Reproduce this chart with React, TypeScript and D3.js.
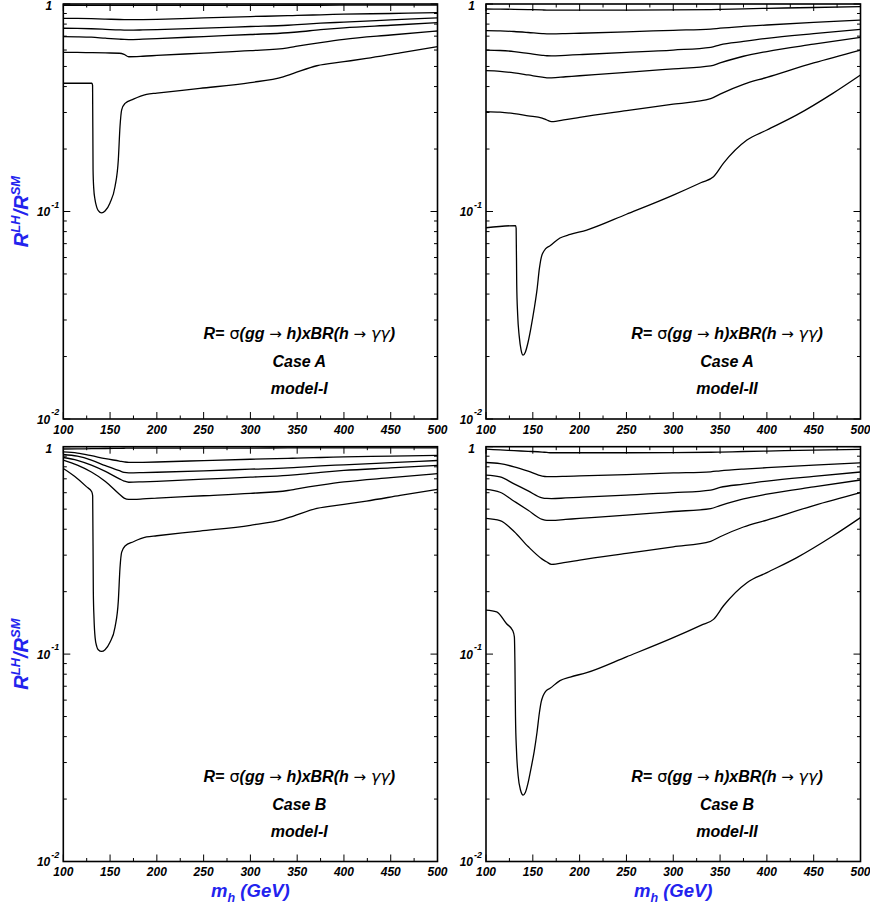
import React from "react";
import * as d3 from "d3";

// ---------- data ----------
const massGrid = [100, 115, 130, 145, 160, 165, 170, 185, 200, 250, 300, 340, 350, 375, 400, 450, 500];

const xMajorTicks = [100, 150, 200, 250, 300, 350, 400, 450, 500];
const xMinorTicks = [125, 175, 225, 275, 325, 375, 425, 475];
const yMajorTicks = [0.01, 0.1, 1];
const yMinorTicks = [0.02, 0.03, 0.04, 0.05, 0.06, 0.07, 0.08, 0.09, 0.2, 0.3, 0.4, 0.5, 0.6, 0.7, 0.8, 0.9];
const yTickLabels = [
  { v: 1, base: "1", exp: "" },
  { v: 0.1, base: "10", exp: "-1" },
  { v: 0.01, base: "10", exp: "-2" },
];

// Case A, model-I
const aI_c1 = [0.986, 0.986, 0.985, 0.985, 0.984, 0.984, 0.984, 0.984, 0.984, 0.985, 0.985, 0.986, 0.986, 0.986, 0.987, 0.987, 0.988];
const aI_c2 = [0.853, 0.852, 0.850, 0.846, 0.842, 0.841, 0.840, 0.841, 0.844, 0.857, 0.870, 0.878, 0.881, 0.887, 0.893, 0.900, 0.908];
const aI_c3 = [0.764, 0.763, 0.760, 0.755, 0.750, 0.749, 0.748, 0.750, 0.753, 0.765, 0.779, 0.790, 0.795, 0.808, 0.818, 0.838, 0.858];
const aI_c4 = [0.696, 0.695, 0.692, 0.684, 0.677, 0.675, 0.674, 0.677, 0.681, 0.697, 0.713, 0.727, 0.733, 0.752, 0.768, 0.790, 0.813];
const aI_c5 = [0.585, 0.584, 0.583, 0.581, 0.579, 0.572, 0.557, 0.560, 0.565, 0.580, 0.596, 0.615, 0.626, 0.652, 0.676, 0.709, 0.741];
const aI_dipMass = [100, 130.6, 131.3, 131.8, 132.5, 133.9, 135.7, 137.4, 141, 144.6, 149.9, 155.3, 158.8, 160.6, 162.4, 166, 174.9, 189, 200, 246, 300, 335, 346, 371, 400, 424, 460, 500];
const aI_dipRatio = [0.415, 0.415, 0.405, 0.16, 0.13, 0.114, 0.105, 0.101, 0.0985, 0.1005, 0.11, 0.132, 0.177, 0.256, 0.309, 0.332, 0.348, 0.367, 0.372, 0.392, 0.418, 0.446, 0.463, 0.504, 0.527, 0.547, 0.582, 0.623];

// Case A, model-II
const aII_c1 = [0.946, 0.945, 0.943, 0.940, 0.936, 0.935, 0.935, 0.935, 0.935, 0.935, 0.936, 0.940, 0.942, 0.948, 0.953, 0.962, 0.971];
const aII_c2 = [0.744, 0.742, 0.737, 0.729, 0.720, 0.718, 0.718, 0.720, 0.723, 0.734, 0.747, 0.757, 0.765, 0.780, 0.792, 0.815, 0.837];
const aII_c3 = [0.600, 0.597, 0.590, 0.578, 0.566, 0.563, 0.562, 0.566, 0.570, 0.584, 0.600, 0.618, 0.636, 0.660, 0.683, 0.720, 0.755];
const aII_c4 = [0.477, 0.474, 0.466, 0.455, 0.444, 0.441, 0.441, 0.446, 0.451, 0.468, 0.487, 0.503, 0.520, 0.560, 0.590, 0.640, 0.691];
const aII_c5 = [0.303, 0.301, 0.296, 0.289, 0.282, 0.276, 0.271, 0.277, 0.284, 0.306, 0.329, 0.350, 0.368, 0.410, 0.443, 0.520, 0.600];
const aII_dipMass = [100, 131.6, 132.2, 132.8, 133.8, 135.5, 137.5, 139.6, 142, 145, 148, 151.5, 154.5, 157, 159, 161, 163.5, 168.4, 179, 190, 207.6, 250, 300, 330, 343, 353.7, 378.7, 400, 432, 470, 500];
const aII_dipRatio = [0.0835, 0.0855, 0.083, 0.045, 0.032, 0.025, 0.0215, 0.0203, 0.021, 0.0235, 0.0275, 0.034, 0.042, 0.053, 0.06, 0.0635, 0.066, 0.0684, 0.0745, 0.0775, 0.0814, 0.097, 0.12, 0.138, 0.147, 0.171, 0.221, 0.247, 0.292, 0.37, 0.455];

// Case B, model-I
const bI_c1 = [0.975, 0.976, 0.978, 0.980, 0.982, 0.983, 0.984, 0.984, 0.984, 0.985, 0.985, 0.986, 0.986, 0.986, 0.987, 0.987, 0.988];
const bI_c2 = [0.944, 0.932, 0.905, 0.875, 0.853, 0.845, 0.840, 0.841, 0.844, 0.857, 0.870, 0.878, 0.881, 0.887, 0.893, 0.900, 0.908];
const bI_c3 = [0.917, 0.900, 0.862, 0.810, 0.766, 0.752, 0.748, 0.750, 0.753, 0.765, 0.779, 0.790, 0.795, 0.808, 0.818, 0.838, 0.858];
const bI_c4 = [0.887, 0.860, 0.815, 0.760, 0.700, 0.683, 0.674, 0.677, 0.681, 0.697, 0.713, 0.727, 0.733, 0.752, 0.768, 0.790, 0.813];
const bI_c5 = [0.861, 0.815, 0.755, 0.680, 0.590, 0.565, 0.557, 0.560, 0.565, 0.580, 0.596, 0.615, 0.626, 0.652, 0.676, 0.709, 0.741];
const bI_dipMass = [100, 112, 125, 130.4, 131.4, 132.1, 132.8, 134, 135.7, 137.4, 141, 144.6, 149.9, 155.3, 158.8, 160.6, 162.4, 166, 174.9, 189, 200, 246, 300, 335, 346, 371, 400, 424, 460, 500];
const bI_dipRatio = [0.785, 0.72, 0.64, 0.606, 0.58, 0.2, 0.15, 0.12, 0.109, 0.105, 0.103, 0.105, 0.114, 0.135, 0.18, 0.26, 0.31, 0.332, 0.348, 0.367, 0.372, 0.392, 0.418, 0.446, 0.463, 0.504, 0.527, 0.547, 0.582, 0.623];

// Case B, model-II
const bII_c1 = [0.973, 0.965, 0.957, 0.950, 0.942, 0.938, 0.935, 0.935, 0.935, 0.935, 0.936, 0.940, 0.942, 0.948, 0.953, 0.962, 0.971];
const bII_c2 = [0.839, 0.828, 0.800, 0.763, 0.722, 0.718, 0.718, 0.720, 0.723, 0.734, 0.747, 0.757, 0.765, 0.780, 0.792, 0.815, 0.837];
const bII_c3 = [0.729, 0.715, 0.662, 0.612, 0.567, 0.563, 0.562, 0.566, 0.570, 0.584, 0.600, 0.618, 0.636, 0.660, 0.683, 0.720, 0.755];
const bII_c4 = [0.622, 0.603, 0.546, 0.494, 0.446, 0.441, 0.441, 0.446, 0.451, 0.468, 0.487, 0.503, 0.520, 0.560, 0.590, 0.640, 0.691];
const bII_c5 = [0.451, 0.440, 0.390, 0.330, 0.287, 0.278, 0.271, 0.277, 0.284, 0.306, 0.329, 0.350, 0.368, 0.410, 0.443, 0.520, 0.600];
const bII_dipMass = [100, 111.4, 122, 128.5, 130.3, 130.9, 131.5, 132.6, 134.3, 137, 139.6, 142, 145, 148, 151.5, 154.5, 157, 159, 161, 163.5, 168.4, 179, 190, 207.6, 250, 300, 330, 343, 353.7, 378.7, 400, 432, 470, 500];
const bII_dipRatio = [0.163, 0.16, 0.14, 0.13, 0.121, 0.09, 0.05, 0.034, 0.026, 0.022, 0.0209, 0.0215, 0.024, 0.028, 0.034, 0.042, 0.052, 0.059, 0.063, 0.066, 0.0684, 0.0745, 0.0775, 0.0814, 0.097, 0.12, 0.138, 0.147, 0.171, 0.221, 0.247, 0.292, 0.37, 0.455];

const caseLabels = ["Case A", "Case A", "Case B", "Case B"];
const modelLabels = ["model-I", "model-II", "model-I", "model-II"];

// ---------- layout ----------
const FONT = "'Liberation Sans', Arial, Helvetica, sans-serif";
const SYM = "'DejaVu Sans', 'Liberation Sans', sans-serif";
const BLUE = "#2323ee";

type Curve = { m: number[]; v: number[] };
const zipGrid = (vals: number[]): Curve => ({ m: massGrid, v: vals });

const panels = [
  {
    x0: 63.3, x1: 437.5, y0: 4, y1: 419, yTitle: true, xTitle: false,
    curves: [aI_c1, aI_c2, aI_c3, aI_c4, aI_c5].map(zipGrid).concat([{ m: aI_dipMass, v: aI_dipRatio }]),
  },
  {
    x0: 486, x1: 860.5, y0: 4, y1: 419, yTitle: false, xTitle: false,
    curves: [aII_c1, aII_c2, aII_c3, aII_c4, aII_c5].map(zipGrid).concat([{ m: aII_dipMass, v: aII_dipRatio }]),
  },
  {
    x0: 63.3, x1: 437.5, y0: 446.7, y1: 861.5, yTitle: true, xTitle: true,
    curves: [bI_c1, bI_c2, bI_c3, bI_c4, bI_c5].map(zipGrid).concat([{ m: bI_dipMass, v: bI_dipRatio }]),
  },
  {
    x0: 486, x1: 860.5, y0: 446.7, y1: 861.5, yTitle: false, xTitle: true,
    curves: [bII_c1, bII_c2, bII_c3, bII_c4, bII_c5].map(zipGrid).concat([{ m: bII_dipMass, v: bII_dipRatio }]),
  },
];

function Panel({ p, idx }: { p: (typeof panels)[number]; idx: number }) {
  const x = d3.scaleLinear().domain([100, 500]).range([p.x0, p.x1]);
  const y = d3.scaleLog().domain([0.01, 1]).range([p.y1, p.y0]);
  const line = d3
    .line<[number, number]>()
    .x((d) => x(d[0]))
    .y((d) => y(d[1]))
    .curve(d3.curveMonotoneX);

  const majLen = 7;
  const minLen = 3.5;
  const textX = idx % 2 === 0 ? p.x0 + 236 : p.x0 + 241;
  const midY = (p.y0 + p.y1) / 2;
  const midX = (p.x0 + p.x1) / 2;
  const sym = { fontFamily: SYM, fontWeight: "normal" as const, fontStyle: "normal" as const };

  return (
    <g>
      <defs>
        <clipPath id={`clip${idx}`}>
          <rect x={p.x0} y={p.y0} width={p.x1 - p.x0} height={p.y1 - p.y0} />
        </clipPath>
      </defs>
      <g clipPath={`url(#clip${idx})`} fill="none" stroke="#000" strokeWidth={1.3}>
        {p.curves.map((c, i) => (
          <path key={i} d={line(c.m.map((m, j) => [m, c.v[j]] as [number, number])) || ""} />
        ))}
      </g>
      {/* ticks */}
      <g stroke="#000" strokeWidth={1}>
        {xMajorTicks.map((t) => (
          <g key={"xm" + t}>
            <line x1={x(t)} x2={x(t)} y1={p.y1} y2={p.y1 - majLen} />
            <line x1={x(t)} x2={x(t)} y1={p.y0} y2={p.y0 + majLen} />
          </g>
        ))}
        {xMinorTicks.map((t) => (
          <g key={"xn" + t}>
            <line x1={x(t)} x2={x(t)} y1={p.y1} y2={p.y1 - minLen} />
            <line x1={x(t)} x2={x(t)} y1={p.y0} y2={p.y0 + minLen} />
          </g>
        ))}
        {yMajorTicks.map((t) => (
          <g key={"ym" + t}>
            <line x1={p.x0} x2={p.x0 + majLen} y1={y(t)} y2={y(t)} />
            <line x1={p.x1} x2={p.x1 - majLen} y1={y(t)} y2={y(t)} />
          </g>
        ))}
        {yMinorTicks.map((t) => (
          <g key={"yn" + t}>
            <line x1={p.x0} x2={p.x0 + minLen} y1={y(t)} y2={y(t)} />
            <line x1={p.x1} x2={p.x1 - minLen} y1={y(t)} y2={y(t)} />
          </g>
        ))}
      </g>
      <rect x={p.x0} y={p.y0} width={p.x1 - p.x0} height={p.y1 - p.y0} fill="none" stroke="#000" strokeWidth={1.6} />
      {/* tick labels */}
      <g fontFamily={FONT} fontWeight="bold" fontStyle="italic" fontSize={12} fill="#000">
        {xMajorTicks.map((t) => (
          <text key={"xl" + t} x={x(t)} y={p.y1 + 14.5} textAnchor="middle">
            {t}
          </text>
        ))}
        {yTickLabels.map((l) =>
          l.exp === "" ? (
            <text key={"yl" + l.v} x={p.x0 - 11} y={y(l.v) + 6} textAnchor="end">
              {l.base}
            </text>
          ) : (
            <g key={"yl" + l.v}>
              <text x={p.x0 - 13} y={y(l.v) + 4.5} textAnchor="end">
                {l.base}
              </text>
              <text x={p.x0 - 12} y={y(l.v) - 4} fontSize={9}>
                {l.exp}
              </text>
            </g>
          )
        )}
      </g>
      {/* annotations */}
      <g fontFamily={FONT} fontWeight="bold" fontStyle="italic" fontSize={16} fill="#000" textAnchor="middle">
        <text x={textX} y={p.y0 + 335}>
          R=
          <tspan {...sym}> σ</tspan>
          (gg
          <tspan {...sym} fontSize={15}> → </tspan>
          h)xBR(h
          <tspan {...sym} fontSize={15}> → </tspan>
          <tspan {...sym} fontStyle="italic">γγ</tspan>)
        </text>
        <text x={textX} y={p.y0 + 363}>{caseLabels[idx]}</text>
        <text x={textX} y={p.y0 + 390}>{modelLabels[idx]}</text>
      </g>
      {p.yTitle && (
        <text
          transform={`translate(${p.x0 - 35},${midY}) rotate(-90)`}
          textAnchor="middle"
          fontFamily={FONT}
          fontWeight="bold"
          fontStyle="italic"
          fontSize={20}
          fill={BLUE}
        >
          R<tspan dy={-8} fontSize={13}>LH</tspan>
          <tspan dy={8}>/R</tspan>
          <tspan dy={-8} fontSize={13}>SM</tspan>
        </text>
      )}
      {p.xTitle && (
        <text
          x={midX}
          y={p.y1 + 35}
          textAnchor="middle"
          fontFamily={FONT}
          fontWeight="bold"
          fontStyle="italic"
          fontSize={18.5}
          fill={BLUE}
        >
          m<tspan dy={5} fontSize={12.5}>h</tspan>
          <tspan dy={-5}> (GeV)</tspan>
        </text>
      )}
    </g>
  );
}

export default function App() {
  return (
    <svg
      width={870}
      height={907}
      viewBox="0 0 870 907"
      style={{ position: "absolute", left: 0, top: 0, background: "#fff" }}
    >
      <rect width={870} height={907} fill="#fff" />
      {panels.map((p, i) => (
        <Panel key={i} p={p} idx={i} />
      ))}
    </svg>
  );
}
